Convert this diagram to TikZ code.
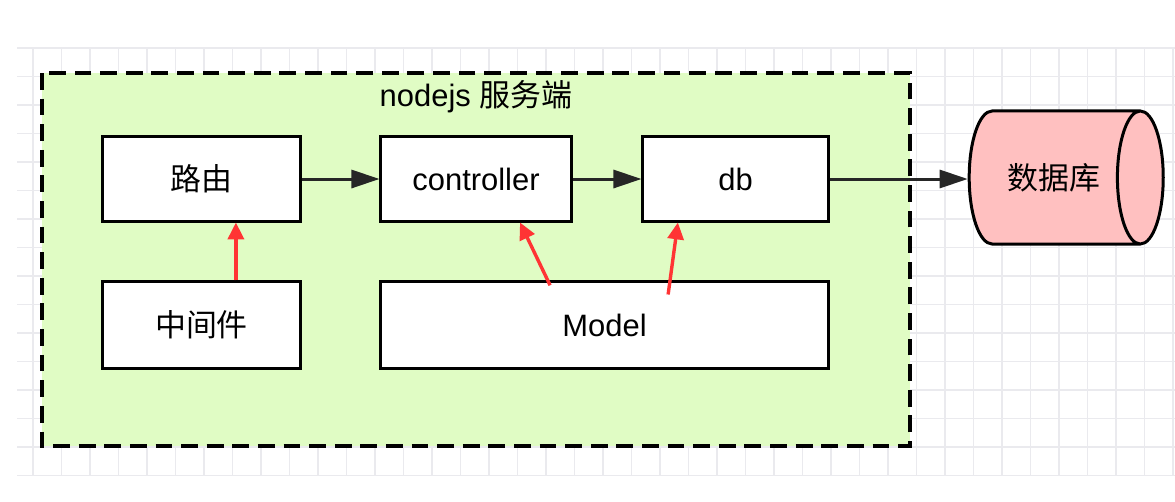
\documentclass[tikz,border=0pt]{standalone}
\usepackage{fontspec}
\setmainfont{Liberation Sans}
\newfontfamily\cjk{Noto Sans CJK SC}
\usetikzlibrary{arrows.meta,positioning,calc,shapes.geometric}
\definecolor{softgreen}{RGB}{224,252,196}
\definecolor{softpink}{RGB}{255,192,192}
\definecolor{gridgray}{RGB}{234,234,238}
\definecolor{hintred}{RGB}{255,52,52}
\begin{document}
\begin{tikzpicture}[x=0.025cm, y=-0.025cm, every node/.style={font=\fontsize{22}{26}\selectfont,align=center},
  box/.style={draw,line width=0.075cm,fill=white,minimum height=2.1cm,inner sep=0pt},
  flow/.style={-{Triangle[length=0.7cm,width=0.45cm]},line width=0.075cm,draw=black!85},
  hint/.style={-{Triangle[length=0.42cm,width=0.4cm]},line width=0.085cm,draw=hintred,fill=hintred}]
\useasboundingbox (0,0) rectangle (1175,501);
% grid
\foreach \k in {0,...,15} \draw[gridgray,line width=0.03cm] (17,48+28.5*\k) -- (1175,48+28.5*\k);
\foreach \k in {0,...,40} \draw[gridgray,line width=0.03cm] (33+28.5*\k,47) -- (33+28.5*\k,475);
% server frame
\draw[fill=softgreen,line width=0.085cm,dash pattern=on 0.42cm off 0.22cm] (42,73) rectangle (910,446);
\node (title) at (476,97) {nodejs {\cjk 服务端}};
\node[box,minimum width=4.925cm] (route) at (201.5,179) {\cjk 路由};
\node[box,minimum width=4.75cm] (ctrl) at (476,179) {controller};
\node[box,minimum width=4.625cm] (db) at (735.5,179) {db};
\node[box,minimum width=4.925cm,minimum height=2.15cm] (mw) at (201.5,325) {\cjk 中间件};
\node[box,minimum width=11.175cm,minimum height=2.15cm] (model) at (604.5,325) {Model};
\node[cylinder,draw,line width=0.075cm,fill=softpink,minimum width=3.325cm,minimum height=4.85cm,shape aspect=1.6,inner sep=0pt] (store) at (1054,177.5) {\cjk 数据库};
\draw[flow] (route)--(ctrl); \draw[flow] (ctrl)--(db); \draw[flow] (db.east)--(db.east -| store.west);
% red hints
\draw[hint] ([xshift=0.86cm]mw.north)--([xshift=0.86cm]route.south);
\draw[hint] ([xshift=-1.36cm,yshift=-0.12cm]model.north)--([xshift=1.1cm]ctrl.south);
\draw[hint] ([xshift=1.59cm,yshift=-0.35cm]model.north)--([xshift=-1.44cm]db.south);
\end{tikzpicture}
\end{document}
